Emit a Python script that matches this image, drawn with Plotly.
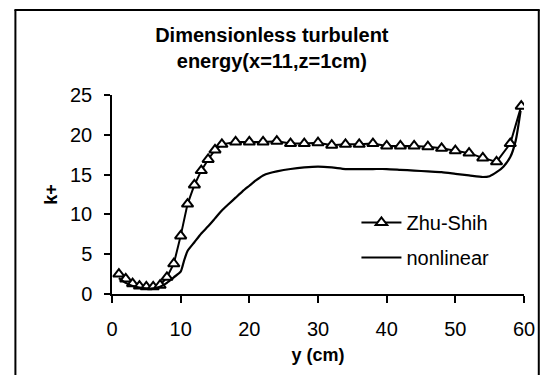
import plotly.graph_objects as go

# ---- data ----
zhu_x = [1, 2, 3, 4, 5, 6, 7, 8, 9, 10, 11, 12, 13, 14, 15, 16,
         18, 20, 22, 24, 26, 28, 30, 32, 34, 36, 38, 40, 42, 44, 46, 48,
         50, 52, 54, 56, 58, 59.6]
zhu_y = [2.5, 1.9, 1.3, 1.0, 0.9, 0.9, 1.1, 2.1, 3.8, 7.3, 11.3, 13.7, 15.5, 16.9, 18.1, 18.8,
         19.1, 19.1, 19.1, 19.2, 18.9, 18.9, 19.0, 18.7, 18.8, 18.8, 18.9, 18.6, 18.6, 18.6, 18.5, 18.3,
         18.0, 17.7, 17.1, 16.6, 18.9, 23.6]

nl_x = [1, 2, 3, 4, 5, 6, 7, 8, 9, 10, 10.5, 11, 12, 13, 14, 15, 16, 17, 18, 19, 20, 21, 22,
        23, 24, 26, 28, 30, 32, 34, 36, 38, 40, 42, 44, 46, 48, 50, 52, 54, 55, 56, 57, 58,
        58.8, 59.5]
nl_y = [2.0, 1.4, 1.0, 0.8, 0.7, 0.7, 0.9, 1.4, 2.1, 2.8, 4.2, 5.4, 6.5, 7.6, 8.5, 9.5, 10.5,
        11.3, 12.1, 12.9, 13.6, 14.3, 14.9, 15.2, 15.4, 15.7, 15.9, 16.0, 15.9, 15.7, 15.7, 15.7,
        15.7, 15.6, 15.5, 15.4, 15.3, 15.1, 14.9, 14.7, 14.8, 15.3, 16.0, 17.2, 19.3, 23.0]

x_ticks = [0, 10, 20, 30, 40, 50, 60]
y_ticks = [0, 5, 10, 15, 20, 25]

title_text = "Dimensionless turbulent<br>energy(x=11,z=1cm)"
x_title = "y (cm)"
y_title = "k+"

FONT = "Liberation Sans, Arial, sans-serif"

fig = go.Figure()
fig.add_trace(go.Scatter(
    x=zhu_x, y=zhu_y, name="Zhu-Shih", mode="lines+markers",
    line=dict(color="black", width=2),
    marker=dict(symbol="triangle-up", size=10, color="white",
                line=dict(color="black", width=2)),
    legendgroup="a",
))
fig.add_trace(go.Scatter(
    x=nl_x, y=nl_y, name="nonlinear", mode="lines",
    line=dict(color="black", width=2.2, shape="spline", smoothing=0.6),
    legendgroup="b",
))

W, H = 547, 375
L, R, T, B = 112, 17, 95, 81
PW, PH = W - L - R, H - T - B


def px_x(p):
    return (p - L) / PW


def px_y(p):
    return (H - B - p) / PH


frame = dict(xref="paper", yref="paper", type="line",
             line=dict(color="black", width=2), layer="above")
shapes = [
    dict(frame, x0=px_x(13), x1=px_x(546), y0=px_y(10), y1=px_y(10)),
    dict(frame, x0=px_x(14), x1=px_x(14), y0=px_y(10), y1=px_y(390)),
    dict(frame, x0=px_x(545), x1=px_x(545), y0=px_y(10), y1=px_y(390)),
]

fig.update_layout(
    width=W, height=H,
    margin=dict(l=L, r=R, t=T, b=B),
    paper_bgcolor="white", plot_bgcolor="white",
    font=dict(family=FONT, color="black", size=20),
    title=dict(text="<b>" + title_text + "</b>", x=0.497, xref="container",
               xanchor="center", y=1 - 42 / H, yanchor="top",
               font=dict(size=20, family=FONT, color="black")),
    showlegend=True,
    legend=dict(x=px_x(360), y=px_y(203),
                xanchor="left", yanchor="top",
                bgcolor="rgba(0,0,0,0)", font=dict(size=20),
                traceorder="grouped", tracegroupgap=6, itemwidth=40),
    shapes=shapes,
)

fig.update_xaxes(
    range=[0, 60], tickvals=x_ticks, ticktext=[str(v) for v in x_ticks],
    showgrid=False, zeroline=False, showline=True, linecolor="black", linewidth=1.5,
    ticks="outside", ticklen=7, tickwidth=1.5, tickcolor="black",
    tickfont=dict(size=20), ticklabelstandoff=9,
    title=dict(text="<b>" + x_title + "</b>", font=dict(size=18), standoff=10),
)
fig.update_yaxes(
    range=[0, 25], tickvals=y_ticks, ticktext=[str(v) for v in y_ticks],
    showgrid=False, zeroline=False, showline=True, linecolor="black", linewidth=1.5,
    ticks="outside", ticklen=6, tickwidth=1.5, tickcolor="black",
    tickfont=dict(size=20), ticklabelstandoff=8,
    title=dict(text="<b>" + y_title + "</b>", font=dict(size=18), standoff=8),
)

fig.write_html("out.html")
